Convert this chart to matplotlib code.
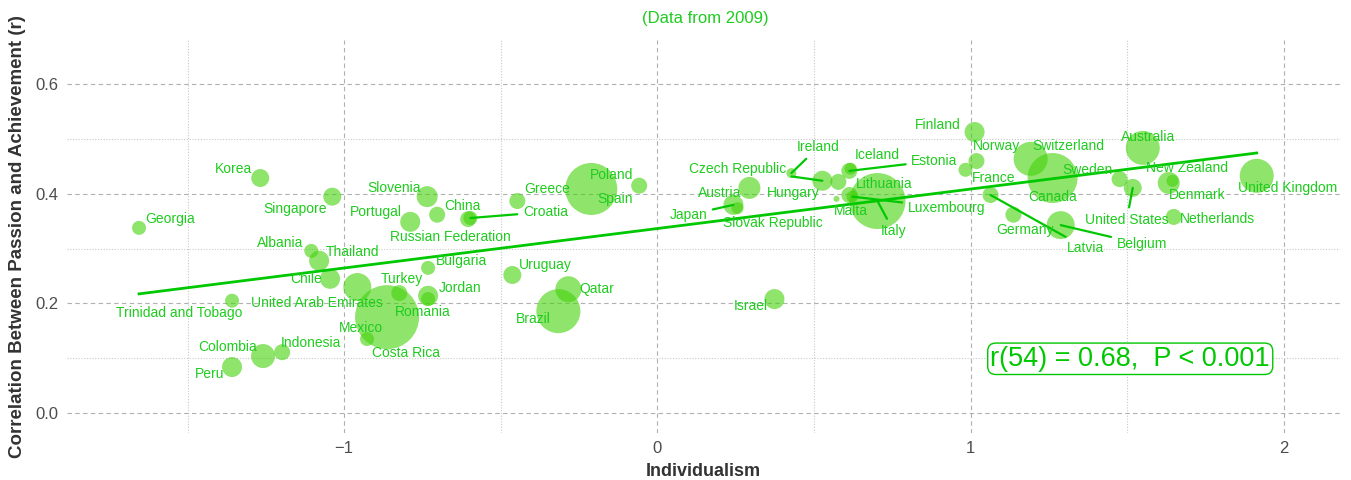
import numpy as np
import matplotlib
matplotlib.use("Agg")
import matplotlib.pyplot as plt

# data
countries = ["Georgia", "Korea", "Singapore", "Slovenia", "Portugal", "China",
             "Russian Federation", "Croatia", "Greece", "Poland", "Spain", "Albania",
             "Thailand", "Chile", "Trinidad and Tobago", "United Arab Emirates", "Mexico",
             "Costa Rica", "Turkey", "Jordan", "Romania", "Bulgaria", "Colombia",
             "Indonesia", "Peru", "Uruguay", "Qatar", "Brazil", "Israel", "Austria",
             "Japan", "Slovak Republic", "Czech Republic", "Ireland", "Hungary", "Iceland",
             "Estonia", "Lithuania", "Malta", "Luxembourg", "Italy", "Finland", "Norway",
             "France", "Latvia", "Germany", "Belgium", "Switzerland", "Canada", "Sweden",
             "United States", "Australia", "New Zealand", "Denmark", "Netherlands",
             "United Kingdom"]
individualism = [-1.655, -1.268, -1.038, -0.735, -0.789, -0.703, -0.604, -0.597, -0.447,
                 -0.058, -0.211, -1.105, -1.080, -1.045, -1.358, -0.958, -0.863, -0.927,
                 -0.824, -0.732, -0.732, -0.732, -1.259, -1.198, -1.358, -0.463, -0.284,
                 -0.316, 0.374, 0.294, 0.243, 0.256, 0.527, 0.428, 0.578, 0.617, 0.613,
                 0.613, 0.572, 0.623, 0.703, 1.013, 1.019, 0.984, 1.064, 1.137, 1.288,
                 1.192, 1.262, 1.476, 1.518, 1.550, 1.633, 1.645, 1.649, 1.914]
correlation = [0.338, 0.429, 0.395, 0.395, 0.349, 0.362, 0.354, 0.356, 0.387, 0.415, 0.409,
               0.296, 0.278, 0.245, 0.205, 0.230, 0.175, 0.135, 0.219, 0.214, 0.208, 0.265,
               0.104, 0.111, 0.084, 0.252, 0.226, 0.186, 0.208, 0.411, 0.380, 0.374, 0.424,
               0.438, 0.422, 0.446, 0.442, 0.398, 0.391, 0.395, 0.387, 0.513, 0.460, 0.444,
               0.398, 0.362, 0.343, 0.464, 0.429, 0.427, 0.411, 0.484, 0.420, 0.424, 0.358,
               0.433]
bubble = [7, 9, 9, 10.5, 10, 8, 8, 7, 8, 8, 26, 7, 10, 10, 7, 14, 32, 7, 8, 10, 7, 7, 12, 8,
          10, 9, 13, 22, 10, 11, 10, 6, 10, 5, 8, 6, 8, 8, 3, 6, 28, 10, 8, 7, 8, 8, 14, 17,
          25, 8, 9, 17, 11, 6, 8, 17]

# label offsets in pixels (dx right, dy down); True = leader line
label_pos = {
    "Georgia": (31, -9, False), "Korea": (-27, -9, False), "Singapore": (-37, 12, False),
    "Slovenia": (-33, -9, False), "Portugal": (-34, -10, False), "China": (25, -9, False),
    "Russian Federation": (-18, 18, False), "Croatia": (75, -6, True),
    "Greece": (30, -12, False), "Poland": (-28, -11, False), "Spain": (24, 10, False),
    "Albania": (-31, -8, False), "Thailand": (33, -9, False), "Chile": (-24, 0, False),
    "Trinidad and Tobago": (-53, 12, False), "United Arab Emirates": (-40, 16, False),
    "Mexico": (-26, 11, False), "Costa Rica": (39, 14, False), "Turkey": (3, -14, False),
    "Jordan": (32, -8, False), "Romania": (-5, 13, False), "Bulgaria": (33, -7, False),
    "Colombia": (-35, -9, False), "Indonesia": (29, -9, False), "Peru": (-22, 7, False),
    "Uruguay": (33, -10, False), "Qatar": (28, 0, False), "Brazil": (-25, 8, False),
    "Israel": (-24, 7, False), "Austria": (-30, 5, False), "Japan": (-45, 10, True),
    "Slovak Republic": (35, 15, False), "Czech Republic": (-85, -12, True),
    "Ireland": (27, -26, True), "Hungary": (-45, 11, False), "Iceland": (27, -14, False),
    "Estonia": (85, -10, True), "Lithuania": (35, -11, False), "Malta": (14, 12, False),
    "Luxembourg": (94, 11, True), "Italy": (16, 30, True), "Finland": (-37, -7, False),
    "Norway": (20, -15, False), "France": (28, 8, False), "Latvia": (95, 53, True),
    "Germany": (12, 15, False), "Belgium": (81, 19, True), "Switzerland": (38, -13, False),
    "Canada": (0, 19, False), "Sweden": (-32, -9, False), "United States": (-6, 32, True),
    "Australia": (5, -11, False), "New Zealand": (18, -15, False),
    "Denmark": (25, 14, False), "Netherlands": (44, 2, False),
    "United Kingdom": (31, 12, False),
}

GREEN = "#1ecc1e"
plt.rcParams['font.family'] = ['Liberation Sans', 'DejaVu Sans']

fig = plt.figure(figsize=(13.51, 4.8), dpi=100)
ax = fig.add_axes([0.0496, 0.0979, 0.9423, 0.8188])

x = np.array(individualism)
y = np.array(correlation)
r = np.array(bubble)
sizes = (2 * r * 0.72) ** 2

ax.scatter(x, y, s=sizes, color="#44d20a", alpha=0.6, edgecolor="none", zorder=3)

# fitted line
k, b = np.polyfit(x, y, 1)
xs = np.array([x.min(), x.max()])
ax.plot(xs, k * xs + b, color="#00c800", lw=2, zorder=4)

for name, xi, yi in zip(countries, x, y):
    dx, dy, leader = label_pos[name]
    if leader:
        ax.annotate(name, (xi, yi), xytext=(dx * 0.72, -dy * 0.72), textcoords="offset points",
                    ha="center", va="center", color=GREEN, fontsize=10, zorder=5,
                    arrowprops=dict(arrowstyle="-", color="#00c800", lw=1.6,
                                    shrinkA=2, shrinkB=0))
    else:
        ax.annotate(name, (xi, yi), xytext=(dx * 0.72, -dy * 0.72), textcoords="offset points",
                    ha="center", va="center", color=GREEN, fontsize=10, zorder=5)

ax.text(1.51, 0.099, "r(54) = 0.68,  P < 0.001", color="#00c800", fontsize=19.5,
        ha="center", va="center", zorder=6,
        bbox=dict(boxstyle="round,pad=0.1,rounding_size=0.3", fc="white", ec="#00c800", lw=1))

ax.set_xlim(-1.885, 2.18)
ax.set_ylim(-0.0365, 0.681)
ax.set_xticks([-1, 0, 1, 2])
ax.set_xticklabels(["\u22121", "0", "1", "2"])
ax.set_xticks([-1.5, -0.5, 0.5, 1.5], minor=True)
ax.set_yticks([0.0, 0.2, 0.4, 0.6])
ax.set_yticklabels(["0.0", "0.2", "0.4", "0.6"])
ax.set_yticks([0.1, 0.3, 0.5], minor=True)
ax.grid(which="major", color="#b0b0b0", linestyle=(0, (4, 3)), lw=0.8)
ax.grid(which="minor", color="#c8c8c8", linestyle=(0, (1, 1.5)), lw=0.8)
ax.set_axisbelow(True)
for sp in ax.spines.values():
    sp.set_visible(False)
ax.tick_params(which="both", length=0, labelsize=12, labelcolor="#4d4d4d", pad=6)

ax.set_xlabel("Individualism", fontsize=13, fontweight="bold", color="#333333", labelpad=5)
ax.set_ylabel("Correlation Between Passion and Achievement (r)", fontsize=13.5,
              fontweight="bold", color="#333333", labelpad=7)

fig.text(0.522, 0.962, "(Data from 2009)", color=GREEN, fontsize=12, ha="center", va="center")

fig.savefig("out.png", dpi=100)
